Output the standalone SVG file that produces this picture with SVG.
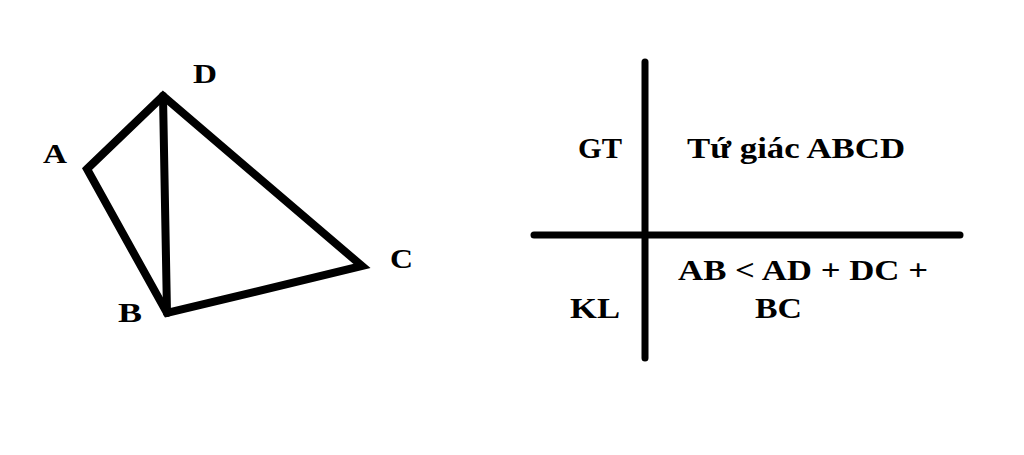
<svg xmlns="http://www.w3.org/2000/svg" width="1024" height="455" viewBox="0 0 1024 455">
<style>
.ln{fill:none;stroke:#000;stroke-width:8;stroke-linejoin:miter;stroke-linecap:round}
.tb{fill:none;stroke:#000;stroke-width:7;stroke-linecap:round}
.t{font-family:"Liberation Serif","Times New Roman",serif;font-weight:bold;fill:#000}
.lbl{font-size:27px}
.big{font-size:30px}
</style>
<rect width="1024" height="455" fill="#fff"/>
<g id="quadrilateral">
<polygon class="ln" points="87,169 163,96 362,266 167,313"/>
<line class="ln" x1="163" y1="96" x2="167" y2="313"/>
</g>
<g id="labels">
<text class="t lbl" x="193" y="83" textLength="24" lengthAdjust="spacingAndGlyphs">D</text>
<text class="t lbl" x="43" y="163" textLength="24" lengthAdjust="spacingAndGlyphs">A</text>
<text class="t lbl" x="118" y="322" textLength="24" lengthAdjust="spacingAndGlyphs">B</text>
<text class="t lbl" x="390" y="268" textLength="23" lengthAdjust="spacingAndGlyphs">C</text>
</g>
<g id="table">
<line class="tb" x1="645" y1="62" x2="645" y2="358"/>
<line class="tb" x1="534" y1="235" x2="960" y2="235"/>
</g>
<g id="table-text">
<text class="t big" x="578" y="158" textLength="44" lengthAdjust="spacingAndGlyphs">GT</text>
<text class="t big" x="687" y="158" textLength="218" lengthAdjust="spacingAndGlyphs">Tứ giác ABCD</text>
<text class="t big" x="678" y="280" textLength="250" lengthAdjust="spacingAndGlyphs">AB &lt; AD + DC +</text>
<text class="t big" x="570" y="318" textLength="50" lengthAdjust="spacingAndGlyphs">KL</text>
<text class="t big" x="755" y="318" textLength="47" lengthAdjust="spacingAndGlyphs">BC</text>
</g>
</svg>
